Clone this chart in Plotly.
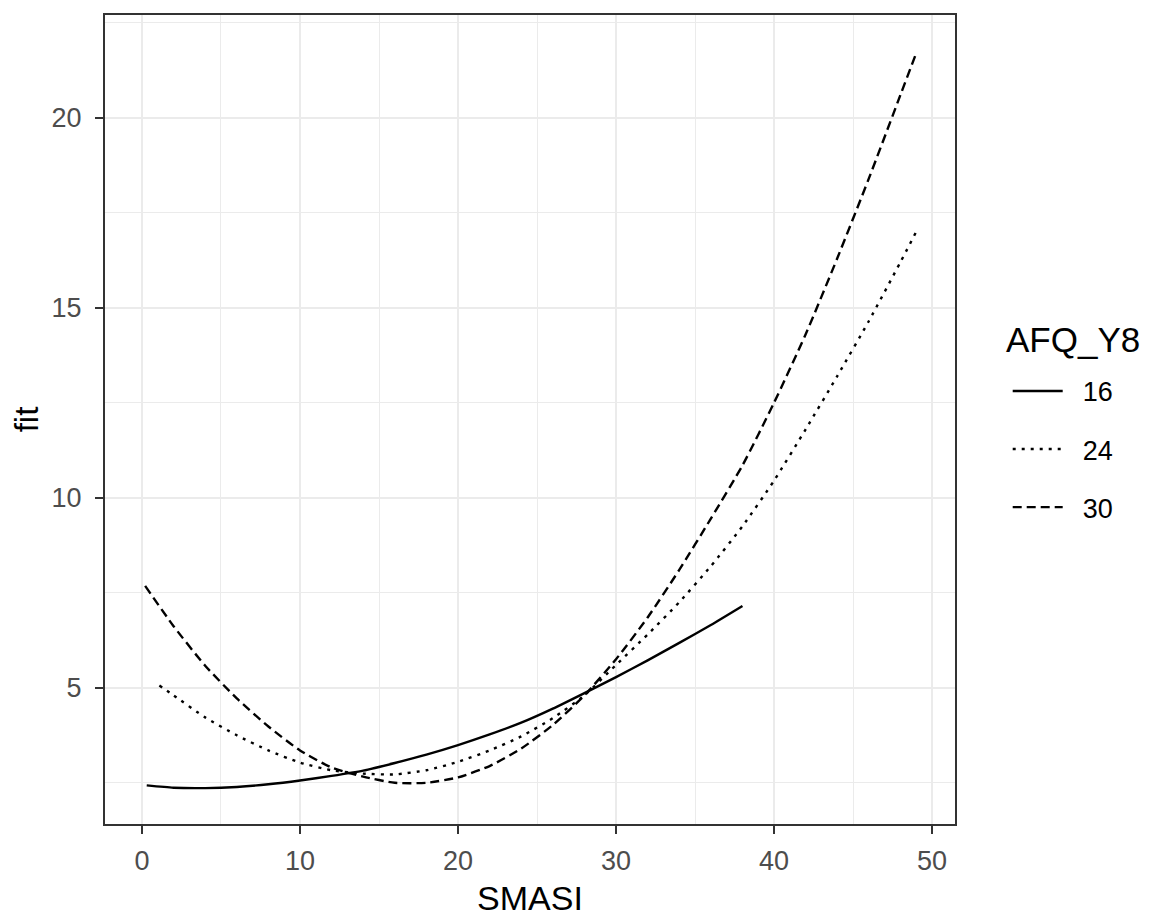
import plotly.graph_objects as go

# ---- data ----
smasi_16 = [0.3, 2, 4, 6, 8, 10, 12, 14, 16, 18, 20, 22, 24, 26, 28, 30, 32, 34, 36, 38]
fit_16 = [2.43, 2.37, 2.36, 2.39, 2.46, 2.56, 2.68, 2.82, 3.02, 3.24, 3.49, 3.77, 4.08,
          4.45, 4.86, 5.28, 5.72, 6.18, 6.65, 7.15]

smasi_24 = [1.1, 2, 4, 6, 8, 10, 12, 14, 16, 18, 20, 22, 24, 26, 28, 30, 32, 34, 36, 38,
            40, 42, 44, 46, 48, 49]
fit_24 = [5.06, 4.8, 4.22, 3.75, 3.35, 3.03, 2.83, 2.74, 2.72, 2.83, 3.05, 3.35, 3.72,
          4.2, 4.8, 5.6, 6.4, 7.25, 8.2, 9.25, 10.45, 11.8, 13.2, 14.65, 16.2, 17.0]

smasi_30 = [0.2, 2, 4, 6, 8, 10, 12, 14, 16, 18, 20, 22, 24, 26, 28, 30, 32, 34, 36, 38,
            40, 42, 44, 46, 48, 49]
fit_30 = [7.68, 6.62, 5.58, 4.72, 3.98, 3.35, 2.9, 2.66, 2.5, 2.5, 2.64, 2.94, 3.4,
          4.02, 4.8, 5.75, 6.85, 8.1, 9.45, 10.85, 12.5, 14.3, 16.3, 18.4, 20.6, 21.7]

groups = ["16", "24", "30"]
series_x = [smasi_16, smasi_24, smasi_30]
series_y = [fit_16, fit_24, fit_30]
dashes = ["solid", "3px,6px", "9px,5px"]

x_ticks = [0, 10, 20, 30, 40, 50]
y_ticks = [5, 10, 15, 20]

FONT = "Liberation Sans, Arial, sans-serif"
NB = "\u00a0\u00a0"

fig = go.Figure()
for g, xs, ys, d in zip(groups, series_x, series_y, dashes):
    fig.add_trace(go.Scatter(
        x=xs, y=ys, mode="lines", name=NB + g, legendgroup=g,
        line=dict(color="black", width=2.4, dash=d, shape="spline", smoothing=0.6),
    ))

axis_common = dict(
    showgrid=True, gridcolor="#EBEBEB", gridwidth=2,
    zeroline=False,
    showline=True, linecolor="#333333", linewidth=2, mirror=True,
    ticks="outside", ticklen=8, tickwidth=2, tickcolor="#333333",
    tickfont=dict(family=FONT, size=27, color="#4D4D4D"),
    minor=dict(showgrid=True, gridcolor="#EBEBEB", gridwidth=1.3),
)

fig.update_layout(
    width=1142, height=909,
    margin=dict(l=97, r=195, t=5, b=89),
    paper_bgcolor="white", plot_bgcolor="white",
    font=dict(family=FONT, color="black"),
    xaxis=dict(range=[-2.34, 51.45], tickvals=x_ticks, ticklabelstandoff=4,
               title=dict(text="SMASI", font=dict(family=FONT, size=34, color="black"), standoff=12),
               **axis_common),
    yaxis=dict(range=[1.415, 22.7], tickvals=y_ticks, ticklabelstandoff=8,
               title=dict(text="fit", font=dict(family=FONT, size=33, color="black"), standoff=12),
               **axis_common),
    legend=dict(
        font=dict(family=FONT, size=27, color="black"),
        x=1.062, xanchor="left", y=0.565, yanchor="top",
        tracegroupgap=20, itemwidth=50,
        bgcolor="rgba(0,0,0,0)",
    ),
    annotations=[dict(
        text="AFQ_Y8", xref="paper", yref="paper", x=1.058, y=0.599,
        xanchor="left", yanchor="middle", showarrow=False,
        font=dict(family=FONT, size=35, color="black"),
    )],
)
fig.update_xaxes(minor=dict(dtick=5))
fig.update_yaxes(minor=dict(dtick=2.5, tick0=0))

fig.write_html("out.html")
